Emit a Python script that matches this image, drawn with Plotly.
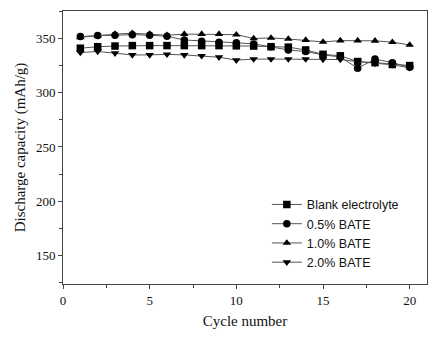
import plotly.graph_objects as go

cycles = list(range(1, 21))
blank = [341, 342.4, 343, 343.4, 343.4, 343.4, 343.4, 343.4, 343.4, 343.2, 343, 342.4, 342, 339.4, 335.4, 334, 328.7, 327.7, 326, 325]
bate05 = [351.7, 352.7, 353, 353.5, 353, 352, 348.6, 347.5, 346.5, 346, 345, 342.4, 339.4, 338, 334.8, 333, 322.5, 331, 327.7, 323.5]
bate10 = [351, 352.6, 354, 354.8, 354, 353, 354, 354, 354, 353.5, 350, 350.5, 349.5, 348.5, 346.8, 348, 348, 347.8, 346.6, 344]
bate20 = [337, 338, 336.4, 334.8, 334.8, 335.4, 334.8, 334, 332.7, 330, 331, 331, 331, 331, 330.6, 330.6, 328.6, 327, 325.7, 323]

series = [
    ("Blank electrolyte", blank, "square"),
    ("0.5% BATE", bate05, "circle"),
    ("1.0% BATE", bate10, "triangle-up"),
    ("2.0% BATE", bate20, "triangle-down"),
]

fig = go.Figure()
for name, vals, sym in series:
    fig.add_trace(go.Scatter(
        x=cycles, y=vals, mode="lines+markers", name=name,
        line=dict(color="#555555", width=1),
        marker=dict(symbol=sym, size=7.5, color="black"),
    ))

axis_common = dict(
    showline=True, linecolor="#444444", linewidth=1, mirror=True,
    ticks="outside", ticklen=4, tickcolor="#444444", showgrid=False, zeroline=False,
    tickfont=dict(family="Liberation Serif", size=13, color="#111111"),
    minor=dict(ticks="outside", ticklen=3, tickcolor="#444444"),
)

fig.update_xaxes(range=[0, 21], tick0=0, dtick=5, minor_dtick=2.5,
                 title=dict(text="Cycle number", font=dict(family="Liberation Serif", size=15, color="#111111"), standoff=8),
                 **axis_common)
fig.update_yaxes(range=[123.7, 375.3], tick0=150, dtick=50, minor_dtick=25,
                 title=dict(text="Discharge capacity (mAh/g)", font=dict(family="Liberation Serif", size=15, color="#111111"), standoff=6),
                 **axis_common)

fig.update_layout(
    width=447, height=342,
    margin=dict(l=63, r=20, t=11, b=58),
    paper_bgcolor="white", plot_bgcolor="white",
    showlegend=True,
    legend=dict(x=0.56, y=0.345, xanchor="left", yanchor="top",
                bgcolor="rgba(0,0,0,0)", borderwidth=0,
                font=dict(family="Liberation Sans", size=12.5, color="#111111"),
                tracegroupgap=0, itemwidth=30),
)

fig.write_html("out.html")
